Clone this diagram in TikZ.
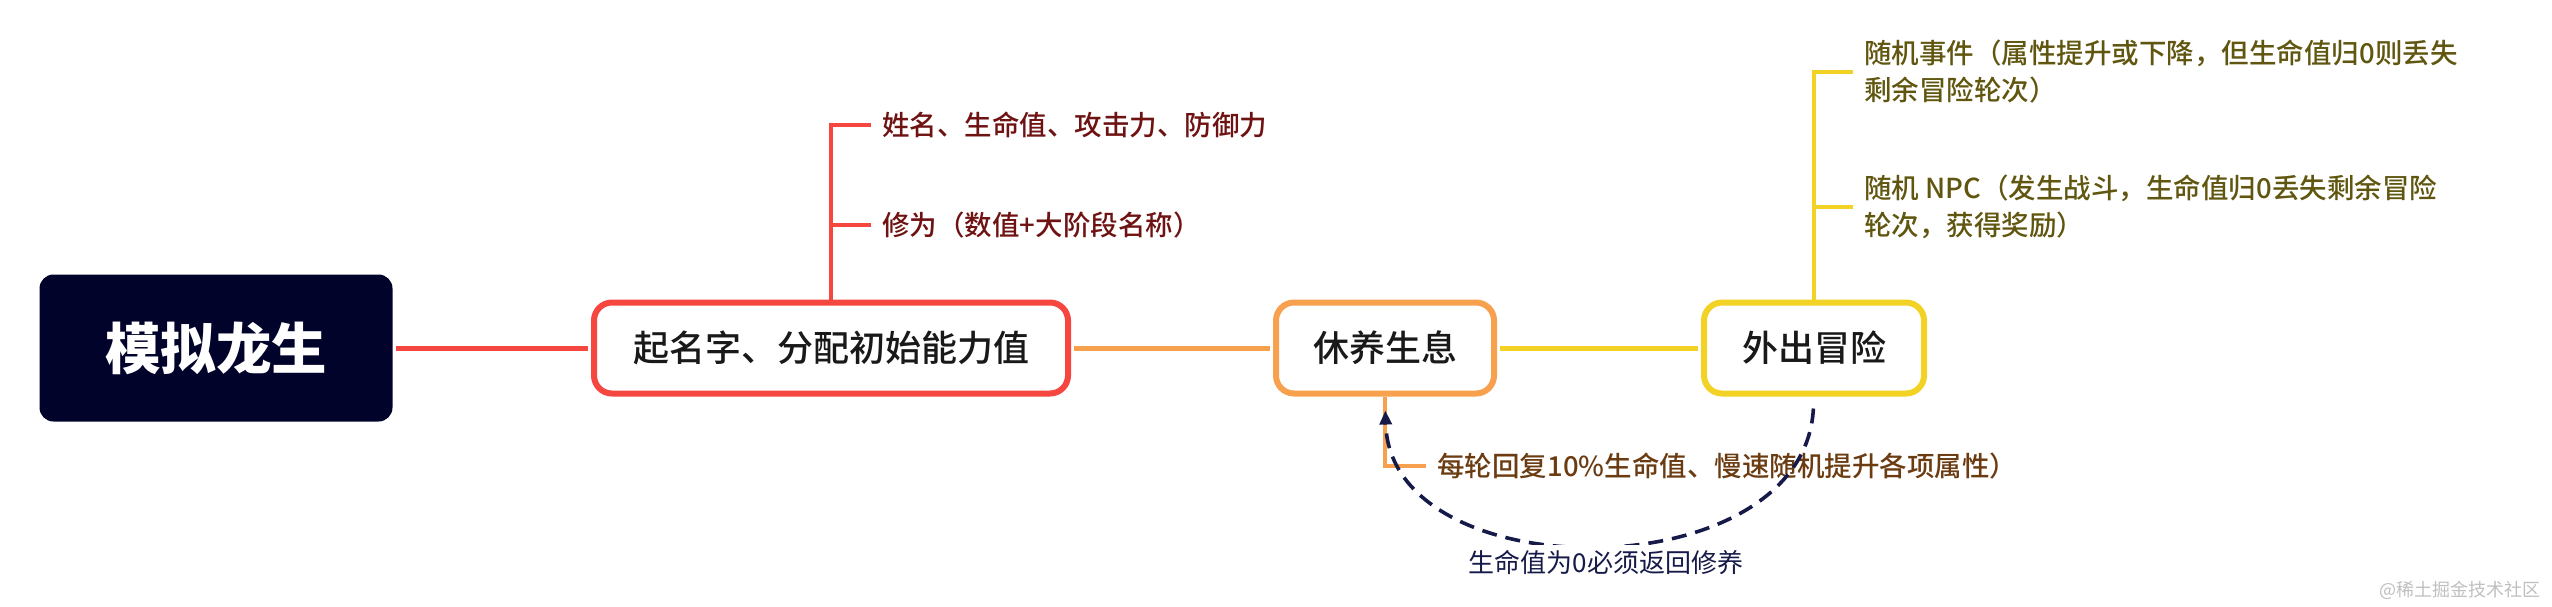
\documentclass[tikz,border=0pt]{standalone}
\usepackage{fontspec}
\setmainfont{Noto Sans CJK SC}
\newfontfamily\medfont{Noto Sans CJK SC Medium}
\usepackage{tikz}
\usetikzlibrary{arrows.meta}
\definecolor{rootnavy}{HTML}{02032B}
\definecolor{mmred}{HTML}{F5473F}
\definecolor{mmorange}{HTML}{F7A04D}
\definecolor{mmyellow}{HTML}{F2D225}
\definecolor{txtred}{HTML}{6E1212}
\definecolor{txtbrown}{HTML}{6B3C12}
\definecolor{txtolive}{HTML}{605610}
\definecolor{notenavy}{HTML}{161A48}

\begin{document}
\begin{tikzpicture}[x=0.5pt,y=-0.5pt,
  topic/.style={draw=#1,line width=3pt,rounded corners=9pt,fill=white,minimum height=45.5pt,inner sep=0pt,text=black!90,font=\medfont\fontsize{18}{22}\selectfont},
  leaf/.style={anchor=west,align=left,inner xsep=5.5pt,font=\medfont\fontsize{13.75}{18.5}\selectfont},
  trunk/.style={line width=2.5pt,#1,shorten <=1.5pt,shorten >=1.5pt},
  twig/.style={line width=2pt,#1}]
\useasboundingbox (0,0) rectangle (2552,606);
% main line
\node[fill=rootnavy,rounded corners=7pt,minimum width=176.5pt,minimum height=73.5pt,text=white,font=\fontsize{27.75}{32}\selectfont\bfseries] (root) at (216,348) {模拟龙生};
\node[topic=mmred,minimum width=237pt] (name) at (831,348) {起名字、分配初始能力值};
\node[topic=mmorange,minimum width=109pt] (rest) at (1385,348) {休养生息};
\node[topic=mmyellow,minimum width=110pt] (trip) at (1814,348) {外出冒险};
\draw[trunk=mmred] (root) -- (name);
\draw[trunk=mmorange] (name) -- (rest);
\draw[trunk=mmyellow] (rest) -- (trip);
% branches
\node[leaf,text=txtred] (stats) at (871,125) {姓名、生命值、攻击力、防御力};
\node[leaf,text=txtred] (rank) at (871,225) {修为（数值+大阶段名称）};
\node[leaf,text=txtbrown] (heal) at (1426,466) {每轮回复10\%生命值、慢速随机提升各项属性）};
\node[leaf,text=txtolive] (event) at (1853,72) {随机事件（属性提升或下降，但生命值归0则丢失\\剩余冒险轮次）};
\node[leaf,text=txtolive] (npc) at (1853,207) {随机 NPC（发生战斗，生命值归0丢失剩余冒险\\轮次，获得奖励）};
\draw[twig=mmred] (name.north) |- (stats.west) (name.north) |- (rank.west);
\draw[twig=mmorange] (rest.south) |- (heal.west);
\draw[twig=mmyellow] (trip.north) |- (event.west) (trip.north) |- (npc.west);
% back to rest
\draw[notenavy,line width=1.8pt,dash pattern=on 7.5pt off 4.5pt,-{Triangle[length=7pt,width=6pt]},shorten <=6pt,shorten >=7pt] (trip.south) .. controls +(-10,195) and +(5,195) .. (rest.south);
\node[fill=white,text=notenavy,inner sep=3pt,font=\fontsize{13}{16}\selectfont] (note) at (1606,563) {生命值为0必须返回修养};
\node[anchor=east,text=gray!50,font=\fontsize{9}{11}\selectfont] (mark) at (2548,590) {@稀土掘金技术社区};
\end{tikzpicture}
\end{document}
